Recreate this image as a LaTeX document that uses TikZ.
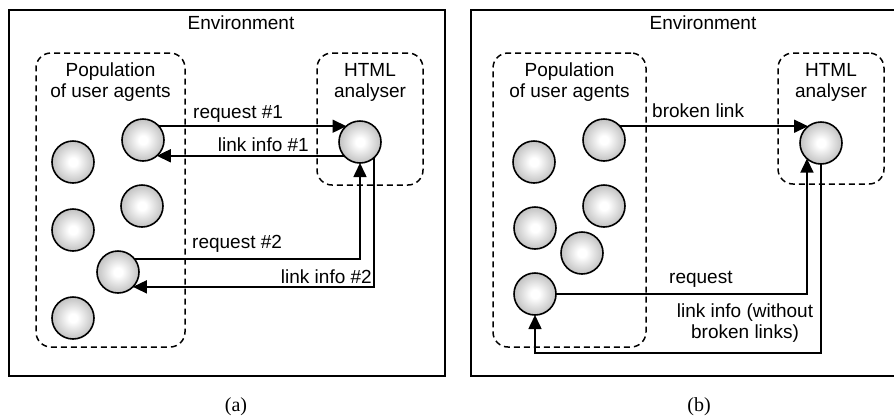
\documentclass[tikz,border=0pt]{standalone}
\usepackage{fontspec}
\setmainfont{Liberation Sans}
\newfontfamily\capfont{Liberation Serif}
\usetikzlibrary{arrows.meta}

% soft white-centred ball used for every agent
\pgfdeclareradialshading{agentball}{\pgfpoint{0bp}{0bp}}{%
  color(0bp)=(white); color(5bp)=(white); color(30bp)=(black!30); color(50bp)=(black!62)}

\tikzset{
  envbox/.style={draw, line width=1.8pt, inner sep=0pt, outer sep=0pt},
  groupbox/.style={draw, line width=1.5pt, dash pattern=on 6pt off 4pt,
    rounded corners=15pt, inner sep=0pt, outer sep=0pt},
  agent/.style={circle, draw, line width=1.6pt, minimum size=42pt,
    inner sep=0pt, outer sep=0pt, shading=agentball},
  msg/.style={draw, line width=1.6pt, -{Triangle[length=14pt,width=13pt]}},
  lbl/.style={font=\fontsize{19}{21}\selectfont, inner sep=0pt, anchor=base},
  sublabel/.style={font=\capfont\fontsize{20}{22}\selectfont, inner sep=0pt, anchor=base},
}

\begin{document}
\begin{tikzpicture}[x=1pt, y=-1pt]
\useasboundingbox (0,0) rectangle (894,416);

% ---------------- panel (a) ----------------
\node[envbox, minimum width=436pt, minimum height=366pt] (envA) at (227,193) {};
\node[lbl] (envAlbl) at (241,29) {Environment};
\node[groupbox, minimum width=149pt, minimum height=294pt] (popA) at (110.5,200) {};
\node[lbl, align=center] (popAlbl) at (110.5,97) {Population\\of user agents};
\node[groupbox, minimum width=106pt, minimum height=132pt] (htmlA) at (370,119) {};
\node[lbl, align=center] (htmlAlbl) at (370,97) {HTML\\analyser};

\node[agent] (A) at (360,142) {};
\node[agent] (a1) at (143,140) {};
\node[agent] (a2) at (73,162) {};
\node[agent] (a3) at (142,206) {};
\node[agent] (a4) at (73,230) {};
\node[agent] (a5) at (118,272) {};
\node[agent] (a6) at (73,318) {};

\draw[msg] (a1.41.8) -- (a1.41.8 -| A.130.4);
\node[lbl, anchor=base west] (req1) at (193,118) {request \#1};
\draw[msg] (A.221.8) -- (A.221.8 -| a1.-49.6);
\node[lbl, anchor=base east] (inf1) at (309,151) {link info \#1};
\draw[msg] (a5.38.2) -| (A.south);
\node[lbl, anchor=base west] (req2) at (192,248) {request \#2};
\draw[msg] (A.-48.2) |- (a5.-45.6);
\node[lbl, anchor=base east] (inf2) at (372,283) {link info \#2};

\node[sublabel] (capA) at (236,411) {(a)};

% ---------------- panel (b) ----------------
\node[envbox, minimum width=435pt, minimum height=366pt] (envB) at (688.5,193) {};
\node[lbl] (envBlbl) at (703,29) {Environment};
\node[groupbox, minimum width=153pt, minimum height=294pt] (popB) at (569.5,200) {};
\node[lbl, align=center] (popBlbl) at (569.5,97) {Population\\of user agents};
\node[groupbox, minimum width=106pt, minimum height=131pt] (htmlB) at (831,118.5) {};
\node[lbl, align=center] (htmlBlbl) at (831,97) {HTML\\analyser};

\node[agent] (B) at (821,143) {};
\node[agent] (b1) at (604,140) {};
\node[agent] (b2) at (534,162) {};
\node[agent] (b3) at (604,206) {};
\node[agent] (b4) at (535,228) {};
\node[agent] (b5) at (582,253) {};
\node[agent] (b6) at (535,294) {};

\coordinate (loopB) at (0,353);

\draw[msg] (b1.41.8) -- (b1.41.8 -| B.128.2);
\node[lbl, anchor=base west] (brk) at (652,117) {broken link};
\draw[msg] (b6.east) -| (B.228.2);
\node[lbl, anchor=base west] (reqB) at (669,283) {request};
\draw[msg] (B.south) -- (B.south |- loopB) -| (b6.south);
\node[lbl, align=center] (infB) at (745,338) {link info (without\\broken links)};

\node[sublabel] (capB) at (699,411) {(b)};
\end{tikzpicture}
\end{document}
